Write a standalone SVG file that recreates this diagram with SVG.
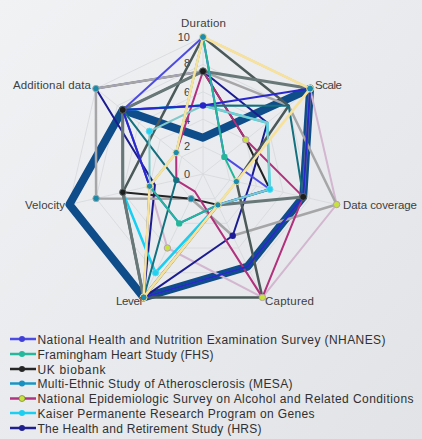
<svg xmlns="http://www.w3.org/2000/svg" width="422" height="439" viewBox="0 0 422 439">
  <defs>
    <linearGradient id="bg" x1="0" y1="0" x2="1" y2="1">
      <stop offset="0" stop-color="#f1f2f4"/>
      <stop offset="1" stop-color="#e1e3e7"/>
    </linearGradient>
  </defs>
  <style>
    .grid { fill: none; stroke: #d5d8dc; stroke-width: 0.8; }
    .s { fill: none; stroke-linejoin: round; stroke-linecap: round; stroke-width: 2; }
    .w25 { stroke-width: 2.5; }
    .w3 { stroke-width: 3; }
    .w8 { stroke-width: 8; }
    .lbl { font-family: "Liberation Sans", Arial, sans-serif; font-size: 11.5px; fill: #404040; }
    .tick { font-family: "Liberation Sans", Arial, sans-serif; font-size: 11px; fill: #404040; text-anchor: end; }
    .leg { font-family: "Liberation Sans", Arial, sans-serif; font-size: 12px; fill: #303030; }
    .mk { stroke-width: 1; }
  </style>

  <rect width="422" height="439" fill="url(#bg)"/>

  <!-- radial grid: rings at 2,4,6,8,10 and spokes -->
  <g id="grid">
    <polygon class="grid" points="203,146.6 224.4,156.9 229.7,180.1 214.9,198.7 191.1,198.7 176.3,180.1 181.6,156.9"/>
    <polygon class="grid" points="203,119.2 245.8,139.8 256.4,186.2 226.8,223.4 179.2,223.4 149.6,186.2 160.2,139.8"/>
    <polygon class="grid" points="203,91.8 267.3,122.8 283.2,192.3 238.6,248 167.4,248 122.8,192.3 138.7,122.8"/>
    <polygon class="grid" points="203,64.4 288.7,105.7 309.9,198.4 250.5,272.7 155.5,272.7 96.1,198.4 117.3,105.7"/>
    <polygon class="grid" points="203,37 310.1,88.6 336.6,204.5 262.4,297.4 143.6,297.4 69.4,204.5 95.9,88.6"/>
    <path class="grid" d="M203,174V37M203,174L310.1,88.6M203,174L336.6,204.5M203,174L262.4,297.4M203,174L143.6,297.4M203,174L69.4,204.5M203,174L95.9,88.6"/>
  </g>

  <!-- scale ticks -->
  <g id="ticks">
    <text class="tick" x="190" y="41">10</text>
    <text class="tick" x="190" y="67">8</text>
    <text class="tick" x="190" y="96">6</text>
    <text class="tick" x="190" y="124">4</text>
    <text class="tick" x="190" y="150">2</text>
    <text class="tick" x="190" y="178">0</text>
  </g>

  <!-- series outlines -->
  <g id="connectors">
    <polygon class="s w8" stroke="#0f4c8a" points="203,137.7 310.1,88.6 303.2,196.9 247.6,266.6 143.6,297.4 69.4,204.5 122.7,109.9"/>
    <polygon class="s" stroke="#d3b6cf" points="203,37 310.1,88.6 336.6,204.5 262.4,297.4 167.4,248 149.6,186.2 176.2,152.6"/>
    <polygon class="s" stroke="#1c1c92" points="203,71.3 267.3,122.7 249.7,184.7 232.7,235.7 143.6,297.4 154.9,185 95.9,88.6"/>
    <polygon class="s w25" stroke="#a6a6a8" points="203,71.3 288.7,105.7 336.6,204.5 232.7,235.7 191.1,198.7 96.1,198.4 95.9,88.6"/>
    <polygon class="s" stroke="#232323" points="203,71.3 245.8,139.8 269.8,189.2 217.9,204.9 191.1,198.7 122.8,192.3 122.7,109.9"/>
    <polygon class="s w25" stroke="#16cff2" points="203,105.5 267.3,122.7 269.8,189.2 217.9,204.9 155.5,272.7 122.8,192.3 122.7,109.9"/>
    <polygon class="s w25" stroke="#4b5959" points="203,37 288.7,105.7 236.4,181.6 262.4,297.4 143.6,297.4 122.8,192.3 152.7,133.9"/>
    <polygon class="s w3" stroke="#687777" points="203,71.3 310.1,88.6 303.2,196.9 217.9,204.9 143.6,297.4 122.8,192.3 122.7,109.9"/>
    <polygon class="s" stroke="#b2307c" points="203,71.3 245.8,139.8 303.2,196.9 262.4,297.4 194.7,191.3 176.3,180.1 176.2,152.6"/>
    <polygon class="s" stroke="#4c4ce4" points="203,37 224.4,156.9 269.8,189.2 217.9,204.9 179.2,223.4 149.6,186.2 122.7,109.9"/>
    <polygon class="s" stroke="#13707f" points="203,105.5 288.7,105.7 303.2,196.9 247.6,266.6 143.6,297.4 176.3,180.1 122.7,109.9"/>
    <polygon class="s" stroke="#80caca" points="203,105.5 267.3,122.7 269.8,189.2 217.9,204.9 143.6,297.4 149.6,186.2 149.4,131.3"/>
    <polygon class="s" stroke="#2828cc" points="203,105.5 310.1,88.6 303.2,196.9 247.6,266.6 143.6,297.4 149.6,186.2 122.7,109.9"/>
    <polygon class="s" stroke="#22b69a" points="203,37 224.4,156.9 236.4,181.6 217.9,204.9 179.2,223.4 149.6,186.2 176.2,152.6"/>
    <polygon class="s w25" stroke="#f7e29c" points="203,37 310.1,88.6 236.4,181.6 217.9,204.9 143.6,297.4 149.6,186.2 176.2,152.6"/>
  </g>

  <!-- point markers -->
  <g id="markers">
    <g fill="#1a8db0" stroke="#f3dd8e" class="mk">
      <circle cx="203" cy="37" r="3.5"/>
      <circle cx="310.1" cy="88.6" r="3.5"/>
      <circle cx="236.4" cy="181.6" r="3.2"/>
      <circle cx="217.9" cy="204.9" r="3.2"/>
      <circle cx="143.6" cy="297.4" r="3.5"/>
      <circle cx="149.6" cy="186.2" r="3.2"/>
      <circle cx="176.2" cy="152.6" r="3.2"/>
    </g>
    <g fill="#1a8aa8" stroke="#9aa4a8" class="mk">
      <circle cx="95.9" cy="88.6" r="3.2"/>
      <circle cx="96.1" cy="198.4" r="3.2"/>
      <circle cx="191.1" cy="198.7" r="3.2"/>
    </g>
    <g fill="#1e1e1e" stroke="#5a6666" class="mk">
      <circle cx="203" cy="71.3" r="3.5"/>
      <circle cx="122.7" cy="109.9" r="3.5"/>
      <circle cx="122.8" cy="192.3" r="3.2"/>
      <circle cx="303.2" cy="196.9" r="3.5"/>
    </g>
    <g fill="#c6e23c" stroke="#b8a0b4" class="mk">
      <circle cx="245.8" cy="139.8" r="3.2"/>
      <circle cx="336.6" cy="204.5" r="3.2"/>
      <circle cx="262.4" cy="297.4" r="3.2"/>
      <circle cx="167.4" cy="248" r="3.2"/>
    </g>
    <g fill="#20d2f0" stroke="#60d8ee" class="mk">
      <circle cx="149.4" cy="131.3" r="3.2"/>
      <circle cx="269.8" cy="189.2" r="3.2"/>
      <circle cx="155.5" cy="272.7" r="3.2"/>
    </g>
    <circle cx="203" cy="105.5" r="3.2" fill="#2424c8"/>
    <circle cx="232.7" cy="235.7" r="3.2" fill="#1c1c98"/>
    <circle cx="176.3" cy="180.1" r="3.2" fill="#13707f"/>
    <circle cx="224.4" cy="156.9" r="3.2" fill="#22b69a"/>
    <circle cx="179.2" cy="223.4" r="3.2" fill="#22b69a"/>
  </g>

  <!-- axis names -->
  <g id="axis-labels">
    <text class="lbl" x="203.5" y="26.5" text-anchor="middle" textLength="45">Duration</text>
    <text class="lbl" x="315" y="88.5" textLength="27">Scale</text>
    <text class="lbl" x="343" y="208.5" textLength="74">Data coverage</text>
    <text class="lbl" x="265" y="305" textLength="49">Captured</text>
    <text class="lbl" x="116" y="305" textLength="26">Level</text>
    <text class="lbl" x="25" y="208.5" textLength="40">Velocity</text>
    <text class="lbl" x="13" y="88.5" textLength="78">Additional data</text>
  </g>

  <!-- legend -->
  <g id="legend">
    <g>
      <line x1="10" y1="339" x2="36" y2="339" stroke="#4c4ce4" stroke-width="2.5"/>
      <circle cx="22" cy="339" r="3" fill="#4040d8"/>
      <text class="leg" x="37.5" y="343.5" textLength="348">National Health and Nutrition Examination Survey (NHANES)</text>
    </g>
    <g>
      <line x1="10" y1="354" x2="36" y2="354" stroke="#26b89c" stroke-width="2.5"/>
      <circle cx="22" cy="354" r="3" fill="#26b89c"/>
      <text class="leg" x="37.5" y="358.5" textLength="176">Framingham Heart Study (FHS)</text>
    </g>
    <g>
      <line x1="10" y1="369" x2="36" y2="369" stroke="#262626" stroke-width="2.5"/>
      <circle cx="22" cy="369" r="3" fill="#262626"/>
      <text class="leg" x="37.5" y="373.5" textLength="68">UK biobank</text>
    </g>
    <g>
      <line x1="10" y1="383.5" x2="36" y2="383.5" stroke="#1896c6" stroke-width="2.5"/>
      <circle cx="22" cy="383.5" r="3" fill="#1890c0"/>
      <text class="leg" x="37.5" y="388" textLength="255">Multi-Ethnic Study of Atherosclerosis (MESA)</text>
    </g>
    <g>
      <line x1="10" y1="398.5" x2="36" y2="398.5" stroke="#b43282" stroke-width="2.5"/>
      <circle cx="22" cy="398.5" r="3" fill="#c6e23c" stroke="#6a6a3a" stroke-width="0.6"/>
      <text class="leg" x="37.5" y="403" textLength="376">National Epidemiologic Survey on Alcohol and Related Conditions</text>
    </g>
    <g>
      <line x1="10" y1="413" x2="36" y2="413" stroke="#1ccff0" stroke-width="2.5"/>
      <circle cx="22" cy="413" r="3" fill="#1ccff0"/>
      <text class="leg" x="37.5" y="417.5" textLength="277">Kaiser Permanente Research Program on Genes</text>
    </g>
    <g>
      <line x1="10" y1="428" x2="36" y2="428" stroke="#1f1f8f" stroke-width="2.5"/>
      <circle cx="22" cy="428" r="3" fill="#1f1f8f"/>
      <text class="leg" x="37.5" y="432.5" textLength="224">The Health and Retirement Study (HRS)</text>
    </g>
  </g>
</svg>
